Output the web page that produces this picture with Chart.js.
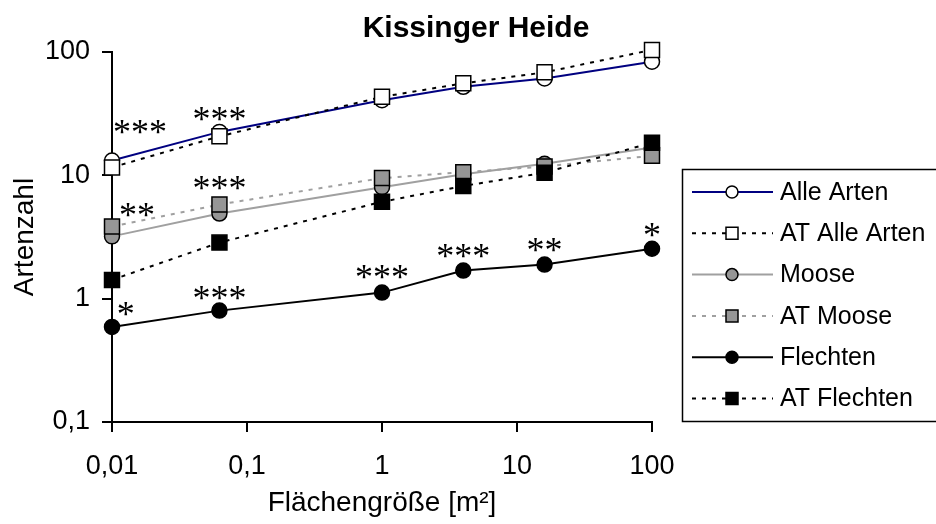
<!DOCTYPE html>
<html>
<head>
<meta charset="utf-8">
<script src="https://cdn.jsdelivr.net/npm/chart.js@4.4.1/dist/chart.umd.min.js"></script>
<style>
html, body { margin: 0; padding: 0; background: #fff; }
</style>
</head>
<body>
<canvas id="myChart" width="936" height="524"></canvas>
<script>
// data (log-log)
const flaeche = [0.01, 0.0625, 1, 4, 16, 100];
const alleArten = [13.2, 22.5, 40.7, 52.2, 61.1, 83.4];
const atAlleArten = [11.6, 20.7, 43.3, 55.7, 68.4, 104];
const moose = [3.2, 4.9, 8.0, 10.2, 12.4, 16.8];
const atMoose = [3.85, 5.8, 9.5, 10.6, 11.8, 14.4];
const flechten = [0.59, 0.80, 1.12, 1.69, 1.89, 2.54];
const atFlechten = [1.42, 2.85, 6.1, 8.2, 10.5, 18.4];

const xTicks = [0.01, 0.1, 1, 10, 100];
const xTickLabels = ['0,01', '0,1', '1', '10', '100'];
const yTicks = [0.1, 1, 10, 100];
const yTickLabels = ['0,1', '1', '10', '100'];

// significance stars
const sternText = ['***', '***', '**', '***', '*', '***', '***', '***', '**', '*'];
const sternX = [0.0161, 0.0625, 0.0153, 0.0625, 0.01265, 0.0625, 1, 4, 16, 100];
const sternY = [24.7, 31.5, 5.27, 8.69, 0.825, 1.11, 1.64, 2.42, 2.71, 3.59];

const sans = "'Liberation Sans', Arial, sans-serif";
Chart.defaults.font.family = sans;
Chart.defaults.color = '#000';

function pts(vals) {
	return flaeche.map((x, i) => ({ x: x, y: vals[i] }));
}

const data = {
	datasets: [{
		label: 'Alle Arten',
		data: pts(alleArten),
		borderColor: '#000080',
		borderWidth: 2,
		pointStyle: 'circle',
		pointRadius: 7.5,
		pointBackgroundColor: '#fff',
		pointBorderColor: '#000',
		order: 5
	},
	{
		label: 'AT Alle Arten',
		data: pts(atAlleArten),
		borderColor: '#000',
		borderWidth: 2,
		borderDash: [4, 6],
		pointStyle: 'rect',
		pointRadius: 10.6,
		pointBackgroundColor: '#fff',
		pointBorderColor: '#000',
		order: 4
	},
	{
		label: 'Moose',
		data: pts(moose),
		borderColor: '#a0a0a0',
		borderWidth: 2,
		pointStyle: 'circle',
		pointRadius: 7.5,
		pointBackgroundColor: '#969696',
		pointBorderColor: '#000',
		order: 3
	},
	{
		label: 'AT Moose',
		data: pts(atMoose),
		borderColor: '#a0a0a0',
		borderWidth: 2,
		borderDash: [4, 6],
		pointStyle: 'rect',
		pointRadius: 10.6,
		pointBackgroundColor: '#969696',
		pointBorderColor: '#000',
		order: 2
	},
	{
		label: 'Flechten',
		data: pts(flechten),
		borderColor: '#000',
		borderWidth: 2,
		pointStyle: 'circle',
		pointRadius: 7.5,
		pointBackgroundColor: '#000',
		pointBorderColor: '#000',
		order: 1
	},
	{
		label: 'AT Flechten',
		data: pts(atFlechten),
		borderColor: '#000',
		borderWidth: 2,
		borderDash: [4, 6],
		pointStyle: 'rect',
		pointRadius: 10.6,
		pointBackgroundColor: '#000',
		pointBorderColor: '#000',
		order: 0
	}]
};
data.datasets.forEach(ds => {
	ds.pointBorderWidth = 1.5;
	ds.tension = 0;
	ds.clip = false;
	ds.fill = false;
});

// title over the plot
const kopf = {
	id: 'kopf',
	afterDraw(chart) {
		const ctx = chart.ctx;
		ctx.save();
		ctx.font = 'bold 30px ' + sans;
		ctx.fillStyle = '#000';
		ctx.textAlign = 'center';
		ctx.textBaseline = 'alphabetic';
		ctx.fillText('Kissinger Heide', 476, 37);
		ctx.restore();
	}
};

// stars above the points
const sterne = {
	id: 'sterne',
	afterDatasetsDraw(chart) {
		const ctx = chart.ctx;
		const xs = chart.scales.x, ys = chart.scales.y;
		ctx.save();
		ctx.font = "36px 'Liberation Serif', 'Times New Roman', serif";
		ctx.fillStyle = '#000';
		ctx.textAlign = 'center';
		ctx.textBaseline = 'alphabetic';
		sternText.forEach((t, i) => {
			const m = ctx.measureText(t);
			const px = xs.getPixelForValue(sternX[i]);
			const py = ys.getPixelForValue(sternY[i]);
			const off = (m.actualBoundingBoxAscent - m.actualBoundingBoxDescent) / 2;
			ctx.fillText(t, px, py + off);
		});
		ctx.restore();
	}
};

// legend box with line + marker samples
const legende = {
	id: 'legende',
	afterDraw(chart) {
		const ctx = chart.ctx;
		ctx.save();
		ctx.strokeStyle = '#000';
		ctx.lineWidth = 1.5;
		ctx.strokeRect(682.5, 169.5, 270, 252);
		chart.data.datasets.forEach((ds, i) => {
			const y = 192 + i * 41.3;
			ctx.setLineDash(ds.borderDash || []);
			ctx.strokeStyle = ds.borderColor;
			ctx.lineWidth = ds.borderWidth;
			ctx.beginPath();
			ctx.moveTo(692, y);
			ctx.lineTo(773, y);
			ctx.stroke();
			ctx.setLineDash([]);
			ctx.fillStyle = ds.pointBackgroundColor;
			ctx.strokeStyle = ds.pointBorderColor;
			ctx.lineWidth = 1.5;
			ctx.beginPath();
			if (ds.pointStyle === 'circle') {
				ctx.arc(732, y, 6, 0, Math.PI * 2);
			} else {
				ctx.rect(726, y - 6, 12, 12);
			}
			ctx.fill();
			ctx.stroke();
			ctx.fillStyle = '#000';
			ctx.font = '25px ' + sans;
			ctx.textAlign = 'left';
			ctx.textBaseline = 'middle';
			ctx.fillText(ds.label, 780, y + 1);
		});
		ctx.restore();
	}
};

const config = {
	type: 'line',
	data,
	options: {
		responsive: false,
		animation: false,
		devicePixelRatio: 1,
		layout: { padding: { top: 52, right: 284, left: 0, bottom: 0 } },
		plugins: {
			legend: { display: false },
			title: { display: false },
			tooltip: { enabled: false }
		},
		scales: {
			x: {
				type: 'logarithmic',
				min: 0.01,
				max: 100,
				afterBuildTicks: s => { s.ticks = xTicks.map(v => ({ value: v })); },
				afterFit: s => { s.height = 102; },
				ticks: {
					callback: (v, i) => xTickLabels[i],
					autoSkip: false,
					maxRotation: 0,
					padding: 18,
					font: { size: 27 },
					color: '#000'
				},
				grid: { drawOnChartArea: false, drawTicks: true, tickLength: 10, color: '#000', lineWidth: 2 },
				border: { display: true, color: '#000', width: 2 },
				title: { display: true, text: 'Flächengröße [m²]', font: { size: 28 }, color: '#000', padding: 4 }
			},
			y: {
				type: 'logarithmic',
				min: 0.1,
				max: 100,
				afterBuildTicks: s => { s.ticks = yTicks.map(v => ({ value: v })); },
				afterFit: s => { s.width = 112; },
				ticks: {
					callback: (v, i) => yTickLabels[i],
					autoSkip: false,
					padding: 12,
					font: { size: 27 },
					color: '#000'
				},
				grid: { drawOnChartArea: false, drawTicks: true, tickLength: 10, color: '#000', lineWidth: 2 },
				border: { display: true, color: '#000', width: 2 },
				title: { display: true, text: 'Artenzahl', font: { size: 28 }, color: '#000', padding: 8 }
			}
		}
	},
	plugins: [sterne, legende, kopf]
};

const myChart = new Chart(document.getElementById('myChart'), config);
</script>
</body>
</html>
